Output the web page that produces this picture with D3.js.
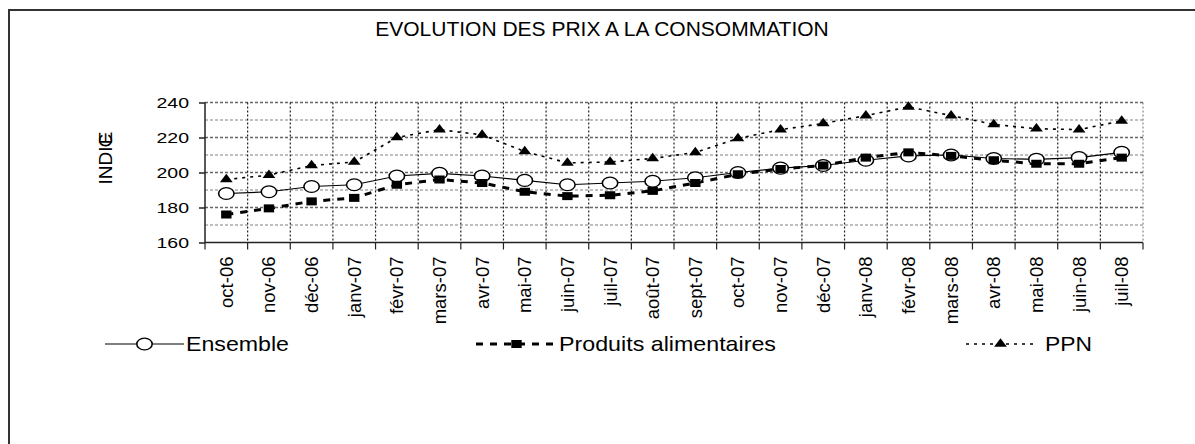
<!doctype html>
<html>
<head>
    <meta charset="utf-8">
    <title>Evolution des prix a la consommation</title>
    <style>
      body { margin: 0; background: #fff; }
      text { font-family: Arial, 'Liberation Sans', sans-serif; fill: #000; }
    </style>
</head>
<body>
<div id="chart-area"></div>
<script src="https://cdn.jsdelivr.net/npm/d3@7/dist/d3.min.js"></script>
<script type="text/javascript">
  // data
  var categories = ['oct-06', 'nov-06', 'déc-06', 'janv-07', 'févr-07', 'mars-07', 'avr-07', 'mai-07', 'juin-07',
    'juil-07', 'août-07', 'sept-07', 'oct-07', 'nov-07', 'déc-07', 'janv-08', 'févr-08', 'mars-08', 'avr-08',
    'mai-08', 'juin-08', 'juil-08'];
  var ensemble = [188, 189, 192, 193, 198, 199.5, 198, 195.5, 193, 194, 195, 197, 200, 202.5, 204, 207, 209.5, 210,
    208, 207.5, 208.5, 211.5];
  var alimentaires = [176, 179.5, 183.5, 185.5, 193, 196, 194, 189, 186.5, 187, 189.5, 194, 199, 202, 204, 208.5,
    211.5, 209.5, 207, 205, 205, 208.5];
  var ppn = [196, 198.5, 204, 206, 220, 224.5, 221.5, 212, 205.5, 206, 208, 211.5, 219.5, 224.5, 228, 232.5, 237.5,
    232.5, 227.5, 225, 224.5, 229.5];
  var yTicks = [160, 180, 200, 220, 240];
  var yGrid = [170, 180, 190, 200, 210, 220, 230, 240];

  var W = 1195, H = 444;
  // markers and tick labels are stretched horizontally in the original
  var sx = 1.3;
  var margin = {left: 205, right: 52, top: 102.5, bottom: 201.5};
  var width = W - margin.left - margin.right;
  var height = H - margin.top - margin.bottom;

  var svg = d3.select('#chart-area')
      .append('svg')
      .attr('width', W)
      .attr('height', H);

  // frame (top and left only)
  svg.append('path')
      .attr('d', 'M9,444V10H1195')
      .attr('fill', 'none')
      .attr('stroke', '#333')
      .attr('stroke-width', 2);

  svg.append('text')
      .attr('x', 602)
      .attr('y', 36)
      .attr('text-anchor', 'middle')
      .attr('font-size', '21px')
      .text('EVOLUTION DES PRIX A LA CONSOMMATION');

  var g = svg.append('g')
      .attr('transform', 'translate(' + margin.left + ',' + margin.top + ')');

  // Scale
  var x = d3.scaleBand()
      .domain(categories)
      .range([0, width]);
  var y = d3.scaleLinear()
      .domain([160, 240])
      .range([height, 0]);
  var cx = function(i) { return x(categories[i]) + x.bandwidth() / 2; };

  // grid
  g.selectAll('.hgrid')
      .data(yGrid)
      .enter().append('line')
      .attr('class', 'hgrid')
      .attr('x1', 0)
      .attr('x2', width)
      .attr('y1', function(d) { return y(d); })
      .attr('y2', function(d) { return y(d); })
      .attr('stroke', function(d) { return d % 20 === 0 ? '#666' : '#aaa'; })
      .attr('stroke-width', 1.5)
      .attr('stroke-dasharray', '3,2');

  g.selectAll('.vgrid')
      .data(categories)
      .enter().append('line')
      .attr('class', 'vgrid')
      .attr('x1', function(d) { return x(d) + x.bandwidth(); })
      .attr('x2', function(d) { return x(d) + x.bandwidth(); })
      .attr('y1', 0)
      .attr('y2', height)
      .attr('stroke', function(d, i) { return i === categories.length - 1 ? '#888' : '#222'; })
      .attr('stroke-width', 1.2)
      .attr('stroke-dasharray', '2,2');

  // Axis
  var yAxisCall = d3.axisLeft(y)
      .tickValues(yTicks)
      .tickSize(6)
      .tickPadding(10);
  var yAxisGroup = g.append('g').call(yAxisCall);
  yAxisGroup.select('.domain').attr('d', 'M0,0V' + height).attr('stroke', '#222').attr('stroke-width', 1.5);
  yAxisGroup.selectAll('line').attr('stroke', '#222').attr('stroke-width', 1.5);
  yAxisGroup.selectAll('text')
      .attr('font-size', '15px')
      .attr('font-family', 'Arial, Liberation Sans, sans-serif')
      .attr('fill', '#000')
      .attr('transform', function() {
        var xx = +d3.select(this).attr('x');
        return 'translate(' + (xx - xx * sx) + ',0) scale(' + sx + ',1)';
      });

  var xAxisGroup = g.append('g')
      .attr('transform', 'translate(0,' + height + ')');
  xAxisGroup.append('line')
      .attr('x1', 0)
      .attr('x2', width)
      .attr('stroke', '#222')
      .attr('stroke-width', 1.5);
  xAxisGroup.selectAll('.tick')
      .data([0].concat(categories.map(function(d) { return x(d) + x.bandwidth(); })))
      .enter().append('line')
      .attr('x1', function(d) { return d; })
      .attr('x2', function(d) { return d; })
      .attr('y1', 0)
      .attr('y2', 7)
      .attr('stroke', '#222')
      .attr('stroke-width', 1.2);
  xAxisGroup.selectAll('.xlabel')
      .data(categories)
      .enter().append('text')
      .attr('class', 'xlabel')
      .attr('text-anchor', 'end')
      .attr('dy', '0.35em')
      .attr('font-size', '18.5px')
      .attr('transform', function(d) {
        return 'translate(' + (x(d) + x.bandwidth() / 2) + ',14) rotate(-90)';
      })
      .text(function(d) { return d; });

  // y title, the last letters overlap in the original
  var yTitle = g.append('text')
      .attr('transform', 'translate(' + (-100) + ',' + (height / 2 + 12) + ') rotate(-90)')
      .attr('dy', '0.35em')
      .attr('font-size', '19px');
  yTitle.append('tspan').text('INDI');
  yTitle.append('tspan').attr('dx', '-1').text('C');
  yTitle.append('tspan').attr('dx', '-0.55em').text('E');

  // lines
  var line = function(vals) {
    return d3.line()
        .x(function(d, i) { return cx(i); })
        .y(function(d) { return y(d); })(vals);
  };

  var series = [
    {name: 'Ensemble', values: ensemble, dash: null, width: 1.2, marker: 'circle'},
    {name: 'Produits alimentaires', values: alimentaires, dash: '7,7', width: 3, marker: 'square'},
    {name: 'PPN', values: ppn, dash: '3,5', width: 1.6, marker: 'triangle'}
  ];

  var markerPath = {
    circle: d3.symbol().type(d3.symbolCircle).size(110)(),
    square: d3.symbol().type(d3.symbolSquare).size(64)(),
    triangle: d3.symbol().type(d3.symbolTriangle).size(42)()
  };

  function drawMarker(sel, type, px, py) {
    sel.append('path')
        .attr('d', markerPath[type])
        .attr('transform', 'translate(' + px + ',' + py + ') scale(' + sx + ',1)')
        .attr('fill', type === 'circle' ? '#fff' : '#000')
        .attr('stroke', '#000')
        .attr('stroke-width', type === 'circle' ? 1.2 : 0);
  }

  series.forEach(function(s) {
    g.append('path')
        .attr('d', line(s.values))
        .attr('fill', 'none')
        .attr('stroke', '#000')
        .attr('stroke-width', s.width)
        .attr('stroke-dasharray', s.dash);
  });
  series.forEach(function(s) {
    s.values.forEach(function(v, i) {
      drawMarker(g, s.marker, cx(i), y(v));
    });
  });

  // legend
  var legendY = 344;
  var legendPos = [
    {x1: 105, x2: 184, tx: 186, len: 103},
    {x1: 476, x2: 557, tx: 559, len: 217},
    {x1: 966, x2: 1035, tx: 1045, len: 47}
  ];
  series.forEach(function(s, i) {
    var p = legendPos[i];
    svg.append('line')
        .attr('x1', p.x1)
        .attr('x2', p.x2)
        .attr('y1', legendY)
        .attr('y2', legendY)
        .attr('stroke', '#000')
        .attr('stroke-width', s.width)
        .attr('stroke-dasharray', s.dash);
    drawMarker(svg, s.marker, (p.x1 + p.x2) / 2, legendY);
    svg.append('text')
        .attr('x', p.tx)
        .attr('y', legendY)
        .attr('dy', '0.35em')
        .attr('font-size', '21px')
        .attr('textLength', p.len)
        .attr('lengthAdjust', 'spacingAndGlyphs')
        .text(s.name);
  });
</script>
</body>
</html>
